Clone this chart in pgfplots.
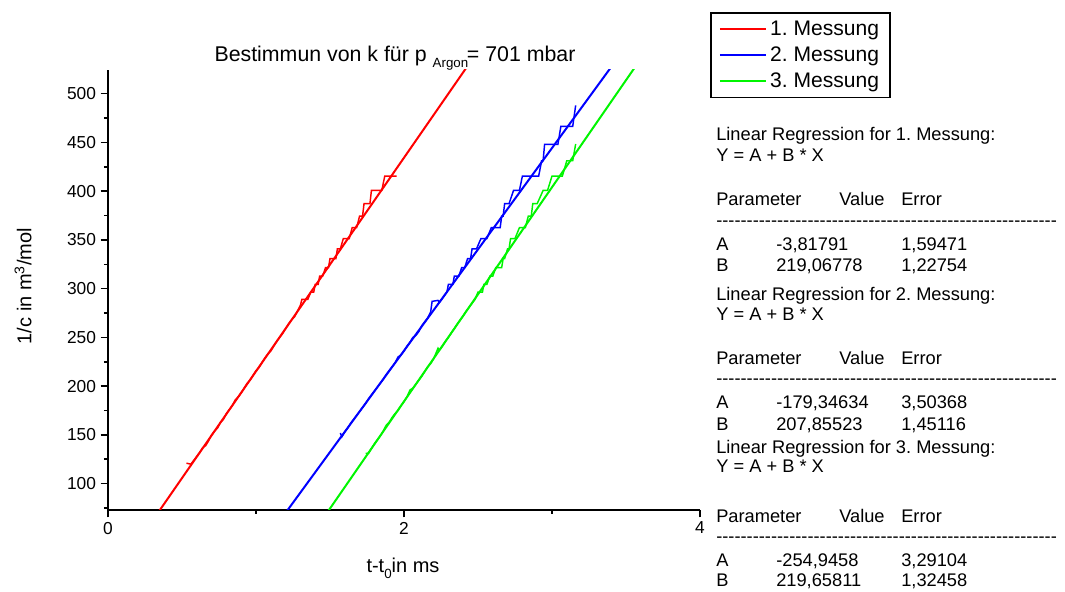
\documentclass[border=0pt]{standalone}
\usepackage{pgfplots}
\pgfplotsset{compat=1.18}
\usepackage{fontspec}
\setmainfont{Liberation Sans}
\frenchspacing
\definecolor{cR}{RGB}{255,0,0}
\definecolor{cB}{RGB}{0,0,255}
\definecolor{cG}{RGB}{0,245,0}
\newcommand\dd{\mbox{-}}
\newcommand\dashline{\dd\dd\dd\dd\dd\dd\dd\dd\dd\dd\dd\dd\dd\dd\dd\dd\dd\dd\dd\dd\dd\dd\dd\dd\dd\dd\dd\dd\dd\dd\dd\dd\dd\dd\dd\dd\dd\dd\dd\dd\dd\dd\dd\dd\dd\dd\dd\dd\dd\dd\dd\dd\dd\dd\dd\dd}
\begin{document}
\begin{tikzpicture}[x=0.75pt,y=0.75pt]
\useasboundingbox (0,0) rectangle (1065,592);
\begin{axis}[
  at={(81pt,61.5pt)}, anchor=south west,
  width=444pt, height=330pt, scale only axis,
  xmin=0, xmax=4, ymin=73, ymax=524.3,
  axis lines=left, axis line style={-, line width=1.5pt},
  xtick={0,2,4}, minor xtick={1,3},
  ytick={100,150,...,500}, minor ytick={75,125,...,475},
  tick align=outside, major tick length=5.5pt, minor tick length=3pt,
  every tick/.style={black, line width=1.2pt},
  xticklabel={\fontsize{13}{15}\selectfont\pgfmathprintnumber{\tick}},
  yticklabel={\fontsize{13}{15}\selectfont\pgfmathprintnumber{\tick}},
  /pgf/number format/assume math mode=true,
  legend style={at={(rel axis cs:1.0169,1.1318)}, anchor=north west, draw=black, line width=1.2pt,
     font=\fontsize{15.8}{18}\selectfont, inner xsep=6pt, inner ysep=4pt, row sep=3pt,
     nodes={inner sep=2pt}},
  legend cell align=left,
  legend image code/.code={\draw[#1] (0pt,0pt) -- (35pt,0pt);},
]
% data series
\addplot[cR, line width=1.1pt, forget plot] coordinates {
(0.53,121) (0.56,120) (0.58,124) (0.60,128) (0.62,132) (0.64,137) (0.66,139) (0.68,144) (0.70,150) (0.72,154)
(0.74,157) (0.76,163) (0.78,166) (0.80,172) (0.82,176) (0.84,180) (0.86,186) (0.88,189) (0.90,193) (0.92,198)
(0.94,203) (0.96,206) (0.98,211) (1.00,216) (1.02,219) (1.04,224) (1.06,229) (1.08,233) (1.10,236) (1.12,241)
(1.14,246) (1.16,250) (1.18,254) (1.20,259) (1.22,264) (1.24,268) (1.26,271) (1.28,277) (1.30,283)
(1.31,289) (1.35,289) (1.37,296.5) (1.39,296.5) (1.40,304.4) (1.42,304.4) (1.43,312.8) (1.45,312.8)
(1.47,321.6) (1.49,321.6) (1.50,330.9) (1.54,330.9) (1.55,340.9) (1.57,340.9) (1.59,351.4) (1.63,351.4)
(1.65,362.6) (1.68,362.6) (1.70,374.5) (1.72,374.5) (1.73,387.2) (1.77,387.2) (1.78,400.8) (1.85,400.8)
(1.87,415.5) (1.95,415.5)
};
\addplot[cB, line width=1.1pt, forget plot] coordinates {
(1.57,152) (1.58,148) (1.60,153) (1.62,157) (1.64,162) (1.66,166) (1.68,170) (1.70,174) (1.72,178) (1.74,182)
(1.76,187) (1.78,191) (1.80,195) (1.82,199) (1.84,203) (1.86,207) (1.88,212) (1.90,216) (1.92,220) (1.94,224)
(1.96,230) (1.98,232) (2.00,236) (2.02,241) (2.04,245) (2.06,250) (2.08,252) (2.10,256) (2.12,262) (2.14,266)
(2.16,270) (2.18,276) (2.19,287) (2.23,288) (2.24,286) (2.26,290) (2.29,296.5) (2.30,304.4) (2.33,304.4)
(2.34,312.8) (2.37,312.8) (2.39,321.6) (2.41,321.6) (2.43,330.9) (2.45,330.9) (2.46,340.9) (2.49,340.9)
(2.52,351.4) (2.56,351.4) (2.59,362.6) (2.65,362.6) (2.66,374.5) (2.67,374.5) (2.68,387.2) (2.71,387.2)
(2.74,400.8) (2.78,400.8) (2.80,415.5) (2.91,415.5) (2.93,431.2) (2.94,431.2) (2.95,448.1) (3.04,448.1)
(3.06,466.5) (3.14,466.5) (3.16,488)
};
\addplot[cG, line width=1.1pt, forget plot] coordinates {
(1.74,131) (1.76,131) (1.78,136) (1.80,141) (1.82,145) (1.84,149) (1.86,154) (1.88,160) (1.90,163) (1.92,168)
(1.94,172) (1.96,175) (1.98,180) (2.00,184) (2.02,189) (2.04,196) (2.06,198) (2.08,202) (2.10,206) (2.12,210)
(2.14,215) (2.16,220) (2.18,223) (2.20,228) (2.23,239) (2.24,237) (2.26,241) (2.28,246) (2.30,250) (2.33,257)
(2.34,259) (2.36,264) (2.38,268) (2.40,272) (2.42,277) (2.44,281) (2.46,285) (2.48,289) (2.50,296.5)
(2.53,296.5) (2.54,304.4) (2.56,304.4) (2.58,312.8) (2.60,312.8) (2.62,321.6) (2.66,321.6) (2.67,330.9)
(2.68,330.9) (2.70,340.9) (2.71,340.9) (2.72,351.4) (2.75,351.4) (2.78,362.6) (2.82,362.6) (2.84,374.5)
(2.86,374.5) (2.87,387.2) (2.90,387.2) (2.94,400.8) (2.97,400.8) (3.00,415.5) (3.07,415.5) (3.10,431.2)
(3.14,431.2) (3.16,448.4)
};
% linear fits
\addplot[cR, line width=1.5pt] coordinates {(0.2913,60) (2.4824,540)};
\addlegendentry{1. Messung}
\addplot[cB, line width=1.5pt] coordinates {(1.1515,60) (3.4607,540)};
\addlegendentry{2. Messung}
\addplot[cG, line width=1.5pt] coordinates {(1.4338,60) (3.6190,540)};
\addlegendentry{3. Messung}
\end{axis}
% title and axis labels
\node[anchor=base, font=\fontsize{16}{18}\selectfont, inner sep=0pt] at (395,530)
  {Bestimmun von k für p \raisebox{-4.5pt}{\fontsize{10}{11}\selectfont Argon}\kern-1pt= 701 mbar};
\node[rotate=90, font=\fontsize{15}{18}\selectfont, inner sep=0pt] at (23,306) {1/c in m\textsuperscript{3}/mol};
\node[anchor=base, font=\fontsize{15}{18}\selectfont, inner sep=0pt] at (403,19)
  {t-t\raisebox{-4.5pt}{\fontsize{10}{11}\selectfont 0}in ms};
% regression report
\begin{scope}[every node/.style={anchor=base west, inner sep=0pt, font=\fontsize{13.7}{16}\selectfont}]
\node at (716,451.5) {Linear Regression for 1. Messung:};
\node at (716,430.5) {Y = A + B * X};
\node at (716,386) {Parameter}; \node at (839,386) {Value}; \node at (901,386) {Error};
\node at (716,365) {\dashline};
\node at (716,341) {A}; \node at (776,341) {-3,81791}; \node at (901,341) {1,59471};
\node at (716,320) {B}; \node at (776,320) {219,06778}; \node at (901,320) {1,22754};
\node at (716,291) {Linear Regression for 2. Messung:};
\node at (716,271) {Y = A + B * X};
\node at (716,227) {Parameter}; \node at (839,227) {Value}; \node at (901,227) {Error};
\node at (716,207) {\dashline};
\node at (716,183) {A}; \node at (776,183) {-179,34634}; \node at (901,183) {3,50368};
\node at (716,161) {B}; \node at (776,161) {207,85523}; \node at (901,161) {1,45116};
\node at (716,138) {Linear Regression for 3. Messung:};
\node at (716,119) {Y = A + B * X};
\node at (716,69.5) {Parameter}; \node at (839,69.5) {Value}; \node at (901,69.5) {Error};
\node at (716,49) {\dashline};
\node at (716,25) {A}; \node at (776,25) {-254,9458}; \node at (901,25) {3,29104};
\node at (716,5) {B}; \node at (776,5) {219,65811}; \node at (901,5) {1,32458};
\end{scope}
\end{tikzpicture}
\end{document}
